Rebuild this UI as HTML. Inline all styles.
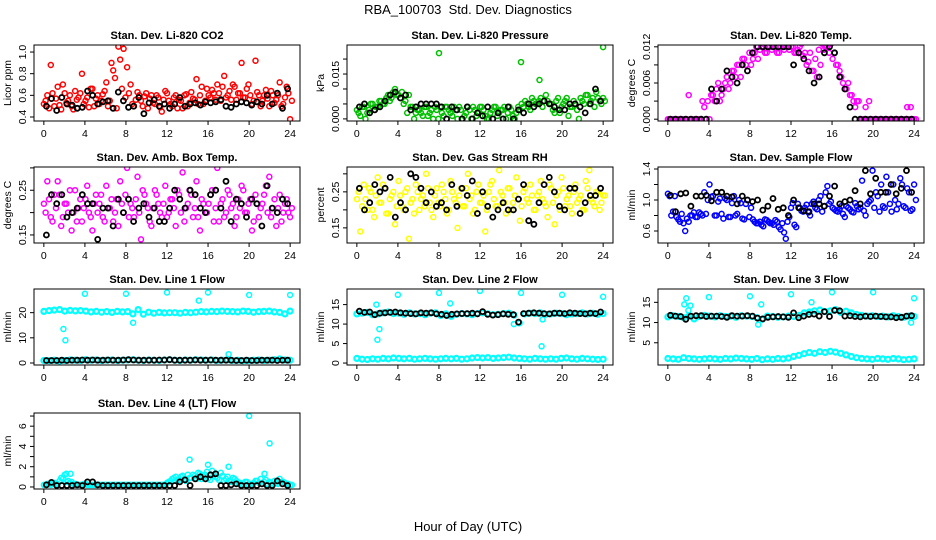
<!DOCTYPE html>
<html><head><meta charset="utf-8">
<style>
html,body{margin:0;padding:0;background:#fff;}
svg{display:block;font-family:"Liberation Sans",Arial,sans-serif;}
</style></head>
<body>
<svg id="chart" width="936" height="540" viewBox="0 0 936 540">
<text x="468" y="14" text-anchor="middle" font-size="13" style="white-space:pre">RBA_100703  Std. Dev. Diagnostics</text>
<text x="468" y="531" text-anchor="middle" font-size="13">Hour of Day (UTC)</text>
</svg>
<script>
// ---------- data ----------
const xTicks = [0,4,8,12,16,20,24];

const co2Main = [0.52,0.6,0.88,0.5,0.68,0.47,0.62,0.55,0.5,0.64,0.58,0.8,0.55,0.49,0.66,0.57,0.52,0.61,0.72,0.55,0.83,0.48,0.93,1.03,0.86,0.7,0.5,0.63,0.55,0.59,0.48,0.6,0.52,0.58,0.45,0.64,0.55,0.5,0.6,0.56,0.48,0.61,0.53,0.57,0.75,0.6,0.52,0.66,0.58,0.62,0.7,0.55,0.78,0.6,0.56,0.68,0.62,0.9,0.58,0.7,0.52,0.92,0.6,0.55,0.65,0.5,0.6,0.56,0.72,0.52,0.68,0.38];
const co2Second = [0.55,0.48,0.62,0.57,0.51,0.7,0.53,0.6,0.47,0.56,0.62,0.52,0.58,0.66,0.5,0.6,0.55,0.64,0.5,0.9,0.76,1.05,0.66,0.58,0.62,0.52,0.56,0.6,0.5,0.62,0.57,0.53,0.6,0.49,0.56,0.62,0.52,0.58,0.48,0.55,0.6,0.5,0.63,0.56,0.52,0.68,0.55,0.6,0.65,0.56,0.62,0.68,0.58,0.64,0.7,0.56,0.62,0.58,0.66,0.6,0.55,0.63,0.5,0.6,0.57,0.64,0.53,0.6,0.5,0.58,0.62,0.55];
const co2Black = [0.5,0.57,0.46,0.58,0.52,0.51,0.48,0.49,0.64,0.6,0.52,0.54,0.55,0.48,0.63,0.55,0.49,0.5,0.58,0.43,0.53,0.56,0.5,0.52,0.48,0.52,0.58,0.5,0.52,0.53,0.51,0.54,0.53,0.54,0.56,0.5,0.49,0.52,0.54,0.53,0.51,0.54,0.52,0.6,0.52,0.62,0.48,0.66];

const presMain = [0.003,0.001,0.004,0.002,0.005,0.003,0.004,0.006,0.005,0.008,0.007,0.01,0.008,0.009,0.006,0.008,0.004,0.002,0.003,0.001,0.004,0.002,0.0,0.003,0.004,0.001,0.004,0.002,0.004,0.0,0.003,0.001,0.004,0.0,0.003,0.002,0.004,0.001,0.0,0.003,0.004,0.002,0.003,0.0,0.004,0.001,0.002,0.003,0.004,0.005,0.003,0.006,0.005,0.007,0.006,0.006,0.005,0.002,0.007,0.004,0.006,0.001,0.004,0.005,0.0,0.006,0.008,0.005,0.007,0.009,0.006,0.007];
const presSecond = [0.002,0.004,0.0,0.003,0.005,0.004,0.006,0.005,0.007,0.006,0.009,0.008,0.007,0.005,0.002,0.004,0.0,0.003,0.002,0.004,0.001,0.003,0.004,0.0,0.002,0.004,0.003,0.001,0.003,0.004,0.0,0.002,0.003,0.004,0.001,0.004,0.003,0.0,0.002,0.004,0.001,0.003,0.004,0.002,0.003,0.0,0.004,0.005,0.006,0.004,0.007,0.005,0.006,0.004,0.008,0.005,0.003,0.006,0.002,0.005,0.007,0.004,0.006,0.003,0.007,0.005,0.008,0.006,0.004,0.007,0.005,0.006];
const presBlack = [0.004,0.005,0.002,0.003,0.004,0.006,0.008,0.009,0.007,0.008,0.003,0.004,0.005,0.005,0.005,0.005,0.004,0.0,0.004,0.003,0.0,0.004,0.0,0.002,0.001,0.004,0.0,0.002,0.0,0.004,0.0,0.003,0.002,0.005,0.004,0.005,0.006,0.005,0.004,0.003,0.003,0.005,0.005,0.004,0.002,0.005,0.01,0.006];
const presOutHours = [8,16,17.8,24];
const presOutValues = [0.022,0.019,0.013,0.024];

const tempMain = [0,0,0,0,0,0,0.004,0,0,0,0.003,0,0,0.004,0.005,0.003,0.005,0.007,0.006,0.008,0.009,0.007,0.01,0.008,0.009,0.011,0.01,0.012,0.011,0.012,0.0115,0.012,0.011,0.0125,0.012,0.0115,0.012,0.011,0.012,0.0105,0.009,0.011,0.008,0.007,0.009,0.0115,0.012,0.0125,0.011,0.009,0.007,0.005,0.006,0.004,0.002,0.003,0.0,0.002,0.003,0,0,0,0,0,0,0,0,0,0,0.002,0.002,0];
const tempSecond = [0,0,0,0,0,0,0,0,0,0,0.002,0.003,0.004,0.003,0.006,0.004,0.006,0.005,0.008,0.007,0.009,0.01,0.009,0.011,0.01,0.012,0.0115,0.0125,0.011,0.012,0.0125,0.011,0.012,0.0115,0.0125,0.012,0.011,0.0115,0.0125,0.011,0.0095,0.008,0.01,0.0115,0.0125,0.012,0.011,0.01,0.009,0.008,0.006,0.005,0.004,0.003,0.003,0,0,0,0,0,0,0,0,0,0,0,0,0,0,0,0,0];
const tempBlack = [0,0,0,0,0,0,0,0,0.005,0.003,0.005,0.008,0.007,0.006,0.009,0.008,0.011,0.012,0.012,0.012,0.012,0.012,0.012,0.012,0.009,0.011,0.01,0.008,0.006,0.007,0.011,0.012,0.011,0.007,0.005,0.002,0,0,0,0,0,0,0,0,0,0,0,0];

const ambMain = [0.22,0.27,0.19,0.24,0.27,0.17,0.22,0.2,0.16,0.25,0.21,0.18,0.23,0.2,0.16,0.24,0.22,0.19,0.26,0.21,0.18,0.23,0.27,0.2,0.3,0.22,0.19,0.28,0.14,0.24,0.21,0.17,0.25,0.22,0.19,0.26,0.2,0.23,0.17,0.24,0.29,0.21,0.25,0.19,0.27,0.16,0.22,0.2,0.24,0.18,0.3,0.22,0.19,0.25,0.21,0.17,0.23,0.26,0.2,0.22,0.16,0.24,0.19,0.22,0.26,0.28,0.21,0.17,0.24,0.2,0.23,0.19];
const ambSecond = [0.2,0.23,0.18,0.21,0.24,0.19,0.22,0.25,0.2,0.18,0.23,0.21,0.26,0.19,0.22,0.2,0.24,0.18,0.21,0.23,0.2,0.17,0.22,0.24,0.19,0.21,0.23,0.2,0.25,0.22,0.18,0.21,0.24,0.2,0.22,0.19,0.23,0.21,0.25,0.2,0.18,0.22,0.24,0.21,0.19,0.23,0.2,0.22,0.25,0.21,0.18,0.23,0.2,0.24,0.22,0.19,0.21,0.25,0.2,0.23,0.18,0.22,0.21,0.24,0.2,0.19,0.23,0.21,0.18,0.22,0.2,0.21];
const ambBlack = [0.15,0.24,0.22,0.24,0.19,0.2,0.21,0.24,0.22,0.22,0.14,0.21,0.21,0.17,0.23,0.2,0.23,0.18,0.21,0.22,0.19,0.21,0.18,0.18,0.21,0.25,0.23,0.21,0.25,0.24,0.21,0.2,0.24,0.25,0.21,0.27,0.18,0.23,0.22,0.19,0.23,0.22,0.17,0.26,0.21,0.2,0.23,0.22];

const rhMain = [0.23,0.14,0.27,0.2,0.25,0.18,0.29,0.22,0.26,0.19,0.24,0.16,0.28,0.21,0.25,0.12,0.23,0.27,0.2,0.24,0.3,0.22,0.18,0.26,0.21,0.25,0.19,0.28,0.23,0.15,0.26,0.21,0.3,0.24,0.2,0.27,0.22,0.14,0.25,0.28,0.21,0.31,0.24,0.19,0.26,0.22,0.29,0.17,0.25,0.23,0.27,0.2,0.24,0.28,0.22,0.18,0.26,0.16,0.25,0.29,0.21,0.24,0.19,0.27,0.23,0.2,0.28,0.31,0.22,0.25,0.2,0.24];
const rhSecond = [0.25,0.21,0.23,0.26,0.2,0.24,0.22,0.27,0.19,0.23,0.25,0.21,0.24,0.2,0.26,0.22,0.19,0.25,0.23,0.21,0.26,0.2,0.24,0.22,0.27,0.23,0.2,0.25,0.22,0.24,0.21,0.26,0.23,0.19,0.25,0.22,0.24,0.2,0.27,0.23,0.21,0.25,0.22,0.26,0.2,0.24,0.23,0.21,0.26,0.22,0.24,0.2,0.25,0.23,0.21,0.27,0.22,0.24,0.2,0.26,0.23,0.21,0.25,0.22,0.24,0.2,0.26,0.23,0.21,0.25,0.22,0.24];
const rhBlack = [0.26,0.2,0.22,0.27,0.25,0.26,0.29,0.18,0.22,0.2,0.3,0.29,0.26,0.22,0.25,0.21,0.22,0.2,0.27,0.21,0.26,0.24,0.28,0.19,0.25,0.21,0.18,0.2,0.22,0.2,0.2,0.23,0.27,0.17,0.16,0.22,0.27,0.29,0.25,0.21,0.2,0.26,0.26,0.19,0.22,0.24,0.24,0.26];

const sfMain = [1.08,0.8,1.05,0.75,0.82,0.6,0.72,0.8,0.78,0.84,0.8,0.82,1.2,1.05,0.8,1.02,0.76,1.0,0.78,1.05,0.82,0.96,0.75,1.0,0.9,0.72,0.7,0.68,0.75,0.72,0.7,0.74,0.65,0.7,0.5,0.78,0.96,0.65,0.9,0.85,0.94,0.8,0.98,0.88,1.05,0.92,1.18,0.98,0.88,0.85,0.92,0.78,0.9,0.85,0.96,0.88,1.25,0.8,0.98,1.38,1.1,0.85,0.92,1.3,0.95,1.2,0.88,1.28,0.92,1.15,0.86,1.2];
const sfSecond = [1.05,0.85,0.78,0.72,0.7,0.76,0.8,0.84,0.78,0.82,1.1,1.0,1.04,0.8,0.98,0.82,1.02,0.78,0.96,0.8,1.0,0.76,0.95,0.78,0.75,0.7,0.72,0.66,0.74,0.7,0.68,0.72,0.62,0.58,0.72,0.9,0.68,0.95,0.86,0.9,0.84,0.95,0.9,1.0,0.85,1.1,0.95,0.9,0.86,0.88,0.82,0.92,0.88,0.84,0.92,0.9,0.86,0.95,1.0,0.9,1.05,1.2,0.9,1.1,0.85,1.0,0.95,1.2,0.9,1.1,0.88,1.0];
const sfBlack = [1.06,0.85,1.08,1.09,0.92,1.05,1.05,1.06,0.99,1.1,1.1,1.05,1.04,0.95,1.05,1.0,0.98,1.0,0.87,0.92,1.02,0.88,0.9,0.8,1.0,0.9,0.86,0.85,0.95,0.95,0.92,1.05,1.18,0.95,0.98,1.0,1.12,0.95,1.38,1.08,1.28,1.1,1.1,1.2,1.08,1.15,1.38,1.1];

const l1High = [20.5,20.8,21,21.2,20.6,20.9,20.7,20.8,20.6,20.3,20.5,20.2,20.4,20.1,20.5,20.3,20.4,19.5,21.2,19.4,20.2,19.8,20.1,19.9,20.0,20,19.8,20.1,20,20.2,20.4,20.3,20.5,20.4,20.6,20.5,20.4,20.3,20.6,20.5,20.2,20.4,20.5,20.6,20.3,20.1,19.5,20.6];
const l1Low = [1.0,0.9,1.1,0.8,1.0,1.2,1.1,1.0,1.3,1.1,1.2,1.0,1.1,1.2,1.0,1.1,1.2,1.3,1.1,1.0,1.2,1.1,1.0,1.2,1.3,1.1,1.0,1.2,1.1,1.3,1.2,1.1,1.2,1.0,1.1,1.2,1.0,1.1,0.9,1.0,1.1,1.2,1.0,1.1,1.3,1.6,1.2,1.1];
const l1Black = [1.0,1.0,1.0,1.1,1.0,1.1,1.1,1.2,1.1,1.2,1.1,1.1,1.2,1.1,1.1,1.2,1.3,1.2,1.1,1.1,1.1,1.1,1.2,1.2,1.3,1.1,1.1,1.1,1.1,1.2,1.1,1.1,1.2,1.1,1.1,1.1,1.1,1.0,1.0,1.1,1.0,1.0,1.1,1.1,1.1,1.0,1.1,1.1];
const l1OutHours = [1.9,2.1,4,8,8.7,12,15.1,16,18,20,24];
const l1OutValues = [13.5,9,27.5,27.5,16,28,24.8,28,3.5,27,27];

const l2High = [12.6,12.8,13.0,12.4,12.6,12.9,13.1,12.7,12.8,12.5,12.9,12.6,12.7,12.4,12.8,12.9,12.2,12.6,12.0,12.5,12.7,12.6,12.4,12.7,12.9,12.6,12.4,12.5,12.7,12.8,12.3,10.3,12.6,12.8,12.7,12.9,12.5,12.6,12.8,12.7,12.4,12.6,12.7,12.9,12.6,12.8,12.5,12.7];
const l2Low = [1.2,1.0,0.9,1.1,1.0,1.2,1.1,1.3,1.2,1.1,1.2,1.0,1.1,1.2,1.1,1.0,1.1,1.2,1.1,1.2,1.0,1.1,1.3,1.4,1.3,1.4,1.2,1.3,1.4,1.5,1.3,1.2,1.1,1.0,1.2,1.1,1.0,1.1,1.0,1.2,1.3,1.1,1.0,1.2,1.1,1.0,0.9,1.0];
const l2Black = [13.3,13.0,13.1,12.4,12.8,12.9,13.0,13.1,12.9,12.8,12.7,12.6,12.9,12.8,12.9,12.6,12.5,12.2,12.5,12.6,12.7,12.7,12.8,12.6,13.2,12.5,12.3,12.4,12.6,12.5,12.4,10.5,12.7,12.8,12.9,12.8,12.7,12.6,12.8,12.8,12.7,12.9,12.8,12.7,12.6,12.8,12.7,13.1];
const l2OutHours = [1.9,2.0,2.2,4,8,9.1,12,15.3,16,18.0,18.1,20,24];
const l2OutValues = [15,6,8.7,17.5,18,15.3,18.5,10,18,4.3,11.2,17.5,17];

const l3High = [11.4,11.7,11.5,11.2,11.6,10.9,11.5,11.8,11.6,11.4,11.7,11.5,11.6,11.3,11.7,11.6,11.5,11.2,10.8,11.6,11.5,11.3,11.4,11.6,11.5,11.8,12.4,12.6,12.9,13.1,12.7,12.9,13.2,12.5,12.8,12.4,12.0,11.8,11.6,11.7,11.5,11.6,11.4,11.7,11.5,11.3,11.6,11.5];
const l3Low = [1.1,1.0,0.9,1.3,1.1,1.0,0.9,1.0,1.1,1.0,0.9,1.1,1.0,1.2,1.1,1.0,0.9,1.1,0.8,1.0,0.9,1.1,1.0,1.2,1.6,1.9,2.3,2.6,2.4,2.8,2.6,2.9,2.7,2.4,2.0,1.6,1.3,1.1,1.0,0.9,1.1,1.0,0.9,1.1,1.0,0.8,0.9,1.0];
const l3Black = [11.8,11.6,11.5,10.8,11.6,11.7,11.7,11.5,11.6,11.6,11.5,11.3,11.7,11.6,11.6,11.7,11.6,11.1,10.9,11.3,11.4,11.5,11.4,11.3,12.4,11.2,11.6,12.0,12.1,11.6,12.7,11.5,13.0,12.9,11.6,11.7,11.5,11.4,11.6,11.5,11.6,11.5,11.4,11.4,11.2,11.3,11.6,11.7];
const l3OutHours = [1.6,1.8,2.0,2.2,4,8,8.8,9.1,12,14,16,20,23.7,24];
const l3OutValues = [14.5,16,13,14.2,16.3,16.5,9.5,14.5,17,15,17.5,17.5,10,16];

const l4Main = [0.2,0.3,0.2,0.4,0.3,0.9,1.2,0.6,0.5,0.3,0.2,0.2,0.3,0.2,0.2,0.2,0.2,0.2,0.2,0.2,0.2,0.2,0.2,0.2,0.2,0.2,0.2,0.2,0.2,0.2,0.2,0.2,0.2,0.2,0.2,0.2,0.5,0.8,1.0,0.7,1.1,0.6,0.9,1.2,0.8,1.3,1.0,1.5,0.7,1.2,0.9,1.4,0.6,1.0,0.5,0.8,0.4,0.3,0.5,0.2,0.3,0.6,0.4,0.3,0.7,0.5,0.3,0.4,0.8,0.5,0.3,0.2];
const l4Second = [0.2,0.3,0.4,0.3,0.6,0.8,0.5,0.4,0.3,0.2,0.2,0.3,0.2,0.2,0.2,0.2,0.2,0.2,0.2,0.2,0.2,0.2,0.2,0.2,0.2,0.2,0.2,0.2,0.2,0.2,0.2,0.2,0.2,0.2,0.2,0.4,0.6,0.9,0.7,1.0,0.8,1.2,0.9,1.1,1.4,0.8,1.2,0.9,1.6,1.0,0.7,1.1,0.8,0.5,0.9,0.6,0.4,0.3,0.5,0.3,0.4,0.6,0.8,0.5,0.3,0.4,0.6,0.3,0.5,0.4,0.3,0.2];
const l4Black = [0.2,0.45,0.15,0.15,0.15,0.15,0.2,0.15,0.5,0.5,0.2,0.15,0.15,0.15,0.15,0.15,0.15,0.15,0.15,0.15,0.15,0.15,0.15,0.15,0.15,0.15,0.5,0.7,0.15,0.8,1.0,0.8,1.2,1.3,0.15,0.15,0.2,0.3,0.15,0.15,0.15,0.15,0.3,0.15,0.15,0.6,0.3,0.15];
const l4OutHours = [2.2,2.6,14.2,16,18,20,21.5,22];
const l4OutValues = [1.3,1.3,2.7,2.2,2.0,7.0,1.3,4.3];

// ---------- layout / config ----------
const NS = 'http://www.w3.org/2000/svg';
const svg = document.getElementById('chart');
const colLeft = [34, 347, 658];
const rowTop = [45, 167, 289, 413];
const boxW = 266, boxH = 76;
const xMin = -0.96, xMax = 24.96;

const panels = [
 {key:'co2', title:'Stan. Dev. Li-820 CO2', ylab:'Licor ppm', col:0,row:0, ymin:0.363,ymax:1.065, ticks:[0.4,0.6,0.8,1.0], labels:['0.4','0.6','0.8','1.0'], color:'#ff0000', series:[co2Main,co2Second], black:co2Black},
 {key:'pressure', title:'Stan. Dev. Li-820 Pressure', ylab:'kPa', col:1,row:0, ymin:-0.0007,ymax:0.0247, ticks:[0,0.005,0.01,0.015,0.02], labels:['0.000','','','0.015',''], color:'#00c000', series:[presMain,presSecond], black:presBlack, outH:presOutHours, outV:presOutValues},
 {key:'temp', title:'Stan. Dev. Li-820 Temp.', ylab:'degrees C', col:2,row:0, ymin:-0.0003,ymax:0.0123, ticks:[0,0.003,0.006,0.009,0.012], labels:['0.000','','0.006','','0.012'], color:'#ff00ff', series:[tempMain,tempSecond], black:tempBlack},
 {key:'amb-box-temp', title:'Stan. Dev. Amb. Box Temp.', ylab:'degrees C', col:0,row:1, ymin:0.132,ymax:0.302, ticks:[0.15,0.2,0.25,0.3], labels:['0.15','','0.25',''], color:'#ff00ff', series:[ambMain,ambSecond], black:ambBlack},
 {key:'gas-rh', title:'Stan. Dev. Gas Stream RH', ylab:'percent', col:1,row:1, ymin:0.108,ymax:0.319, ticks:[0.15,0.2,0.25,0.3], labels:['0.15','','0.25',''], color:'#ffff00', series:[rhMain,rhSecond], black:rhBlack},
 {key:'sample-flow', title:'Stan. Dev. Sample Flow', ylab:'ml/min', col:2,row:1, ymin:0.445,ymax:1.426, ticks:[0.6,0.8,1.0,1.2,1.4], labels:['0.6','','1.0','','1.4'], color:'#0000ff', series:[sfMain,sfSecond], black:sfBlack},
 {key:'line1-flow', title:'Stan. Dev. Line 1 Flow', ylab:'ml/min', col:0,row:2, ymin:-0.8,ymax:29.4, ticks:[0,10,20], labels:['0','10','20'], color:'#00ffff', series:[l1High,l1Low], black:l1Black, outH:l1OutHours, outV:l1OutValues, band:true},
 {key:'line2-flow', title:'Stan. Dev. Line 2 Flow', ylab:'ml/min', col:1,row:2, ymin:-0.5,ymax:19.0, ticks:[0,5,10,15], labels:['0','5','10','15'], color:'#00ffff', series:[l2High,l2Low], black:l2Black, outH:l2OutHours, outV:l2OutValues, band:true},
 {key:'line3-flow', title:'Stan. Dev. Line 3 Flow', ylab:'ml/min', col:2,row:2, ymin:-0.5,ymax:18.3, ticks:[5,10,15], labels:['5','10','15'], color:'#00ffff', series:[l3High,l3Low], black:l3Black, outH:l3OutHours, outV:l3OutValues, band:true},
 {key:'line4-flow', title:'Stan. Dev. Line 4 (LT) Flow', ylab:'ml/min', col:0,row:3, ymin:-0.2,ymax:7.3, ticks:[0,1,2,3,4,5,6,7], labels:['0','','2','','4','','6',''], color:'#00ffff', series:[l4Main,l4Second], black:l4Black, outH:l4OutHours, outV:l4OutValues}
];

function mk(tag, attrs, parent){
  const el = document.createElementNS(NS, tag);
  for (const k in attrs) el.setAttribute(k, attrs[k]);
  (parent||svg).appendChild(el);
  return el;
}

panels.forEach(p => {
  const L = colLeft[p.col], T = rowTop[p.row], B = T + boxH, R = L + boxW;
  const xs = h => L + (h - xMin) / (xMax - xMin) * boxW;
  const ys = v => B - (v - p.ymin) / (p.ymax - p.ymin) * boxH;
  const g = mk('g', {});
  
  

  const t = mk('text', {x:(L+R)/2, y:T-6, 'text-anchor':'middle','font-size':11,'font-weight':'bold'}, g);
  t.textContent = p.title;
  
  

  const yl = mk('text', {x:0,y:0,'text-anchor':'middle','font-size':10.5, transform:`translate(${L-23},${(T+B)/2}) rotate(-90)`}, g);
  yl.textContent = p.ylab;
  
  

  const cid = 'clip-' + p.key;
  const cp = mk('clipPath', {id:cid}, g);
  mk('rect', {x:L, y:T, width:boxW, height:boxH}, cp);
  const pts = mk('g', {'clip-path':`url(#${cid})`}, g);
  
  

  const dot = (h, v, col, sw, name) => {
    const c = mk('circle', {cx:xs(h).toFixed(1), cy:ys(v).toFixed(1), r:2.5, fill:'none', stroke:col, 'stroke-width':sw}, pts);
    
    
  };
  p.series.forEach((arr, si) => {
    const off = (!p.band && si === 1) ? 0.17 : 0;
    arr.forEach((v, i) => dot(i * 24 / (arr.length - 1) + off, v, p.color, p.band ? 2.2 : 1.5, p.key + '-point'));
  });
  if (p.outH) p.outH.forEach((h, i) => dot(h, p.outV[i], p.color, 1.5, p.key + '-outlier-point'));
  p.black.forEach((v, i) => dot(0.25 + i * 23.5 / (p.black.length - 1), v, '#000', 1.8, p.key + '-mean-point'));

  const box = mk('rect', {x:L, y:T, width:boxW, height:boxH, fill:'none', stroke:'#000', 'stroke-width':1}, g);
  
  

  const xa = mk('g', {}, g);
  
  
  mk('line', {x1:xs(xTicks[0]), x2:xs(xTicks[xTicks.length-1]), y1:B, y2:B, stroke:'#000'}, xa);
  xTicks.forEach(tk => {
    mk('line', {x1:xs(tk), x2:xs(tk), y1:B, y2:B+4, stroke:'#000'}, xa);
    const tl = mk('text', {x:xs(tk), y:B+16, 'text-anchor':'middle', 'font-size':10.5}, xa);
    tl.textContent = tk;
    
    
  });
  const ya = mk('g', {}, g);
  
  
  mk('line', {x1:L, x2:L, y1:ys(p.ticks[0]), y2:ys(p.ticks[p.ticks.length-1]), stroke:'#000'}, ya);
  p.ticks.forEach((tk, i) => {
    mk('line', {x1:L-4, x2:L, y1:ys(tk), y2:ys(tk), stroke:'#000'}, ya);
    if (p.labels[i]) {
      const tl = mk('text', {x:0, y:0, 'text-anchor':'middle', 'font-size':10.5, transform:`translate(${L-8},${ys(tk)}) rotate(-90)`}, ya);
      tl.textContent = p.labels[i];
      
      
    }
  });
});
</script>
</body></html>
